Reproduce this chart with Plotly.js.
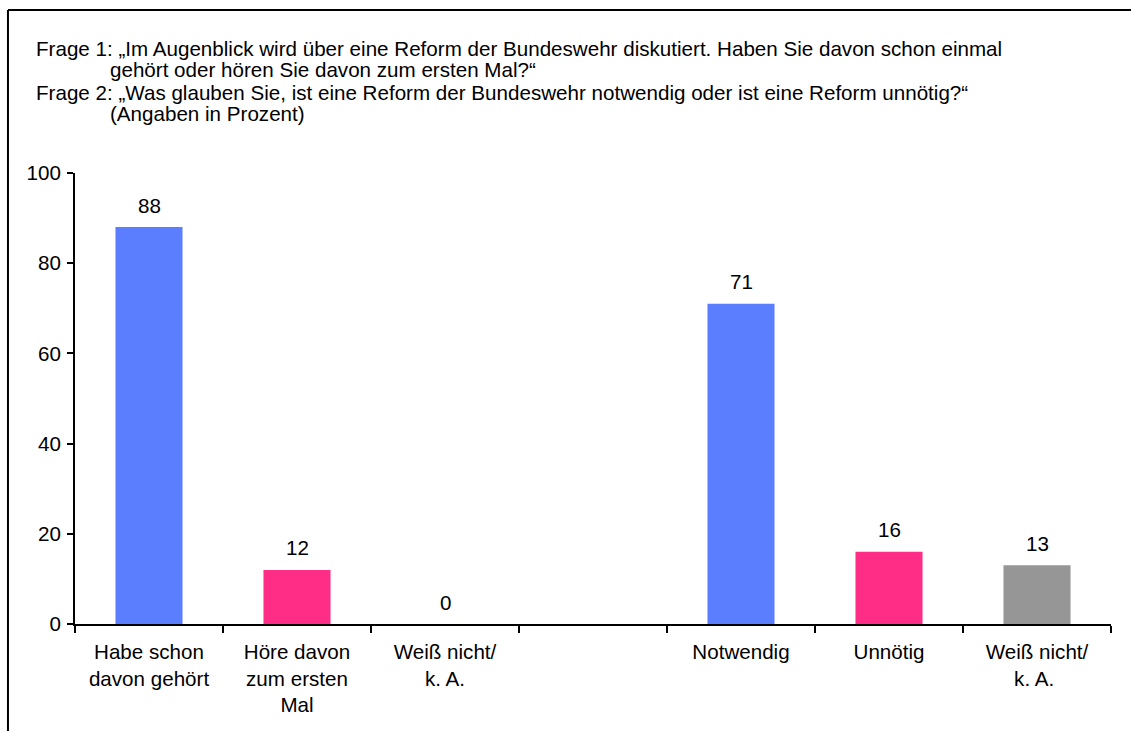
<!DOCTYPE html>
<html>
<head>
<meta charset="utf-8">
<script src="https://cdn.plot.ly/plotly-3.0.1.min.js"></script>
<style>
  html, body { margin: 0; padding: 0; background: #fff; }
  #chart { width: 1131px; height: 731px; }
</style>
</head>
<body>
<div id="chart"></div>
<script>
// Umfrage Bundeswehrreform
var categories = ["Habe schon<br>davon gehört", "Höre davon<br>zum ersten<br>Mal", "Weiß nicht/<br>k. A.", " ",
  "Notwendig", "Unnötig", "Weiß nicht/<br>k. A. "];
var values = [88, 12, 0, null, 71, 16, 13];
var colors = ["#5a7eff", "#ff2d85", "#969696", "#ffffff", "#5a7eff", "#ff2d85", "#969696"];

var titleLines = [
  "Frage 1: „Im Augenblick wird über eine Reform der Bundeswehr diskutiert. Haben Sie davon schon einmal",
  "gehört oder hören Sie davon zum ersten Mal?“",
  "Frage 2: „Was glauben Sie, ist eine Reform der Bundeswehr notwendig oder ist eine Reform unnötig?“",
  "(Angaben in Prozent)"
];
var titleIndent = [-41, 33, -41, 33];
var titleShift = [125, 104, 81, 60];

var font = "Arial, 'Liberation Sans', sans-serif";
var fs = 20.6;

var trace = {
  x: categories,
  y: values,
  type: "bar",
  width: 0.453,
  marker: {color: colors},
  hoverinfo: "none"
};

var annotations = [];
for (var i = 0; i < values.length; i++) {
  if (values[i] === null) continue;
  annotations.push({
    x: categories[i], y: values[i], xref: "x", yref: "y",
    text: String(values[i]), showarrow: false,
    yanchor: "middle", yshift: 22,
    font: {family: font, size: fs, color: "#000"}
  });
}
for (var j = 0; j < titleLines.length; j++) {
  annotations.push({
    x: 0, y: 1, xref: "paper", yref: "paper",
    xanchor: "left", yanchor: "middle",
    xshift: titleIndent[j], yshift: titleShift[j],
    text: titleLines[j], showarrow: false, align: "left",
    font: {family: font, size: fs, color: "#000"}
  });
}

var layout = {
  width: 1131,
  height: 731,
  margin: {l: 75, r: 20, t: 173, b: 107},
  paper_bgcolor: "#fff",
  plot_bgcolor: "#fff",
  showlegend: false,
  font: {family: font, size: fs, color: "#000"},
  xaxis: {
    type: "category",
    categoryorder: "array",
    categoryarray: categories,
    range: [-0.5, 6.5],
    showline: true, linecolor: "#000", linewidth: 2,
    ticks: "outside", tickson: "boundaries", ticklen: 7, tickwidth: 2, tickcolor: "#000",
    ticklabelstandoff: 8,
    showgrid: false, zeroline: false,
    tickangle: 0,
    tickfont: {family: font, size: fs, color: "#000"}
  },
  yaxis: {
    range: [0, 100],
    dtick: 20,
    showline: true, linecolor: "#000", linewidth: 2,
    ticks: "outside", ticklen: 6, tickwidth: 2, tickcolor: "#000",
    ticklabelstandoff: 2,
    showgrid: false, zeroline: false,
    tickfont: {family: font, size: fs, color: "#000"}
  },
  shapes: [
    {type: "line", xref: "paper", yref: "paper", x0: -0.0647, x1: -0.0647, y0: -0.3, y1: 1.3614,
      line: {color: "#000", width: 2}},
    {type: "line", xref: "paper", yref: "paper", x0: -0.0647, x1: 1.05, y0: 1.3614, y1: 1.3614,
      line: {color: "#000", width: 2}}
  ],
  annotations: annotations
};

Plotly.newPlot("chart", [trace], layout, {displayModeBar: false, staticPlot: true});
</script>
</body>
</html>
